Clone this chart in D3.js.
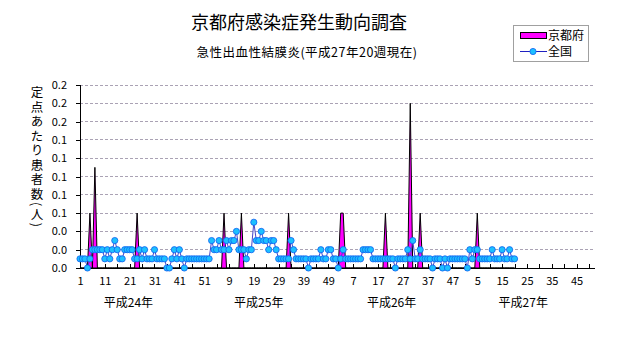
<!DOCTYPE html>
<html>
<head>
<meta charset="utf-8">
<script src="https://cdn.jsdelivr.net/npm/d3@7/dist/d3.min.js"></script>
<style>
  html, body { margin: 0; padding: 0; background: #fff; }
  svg { display: block; }
  text { font-family: "Noto Sans CJK JP", "Noto Sans", sans-serif; fill: #000; }
</style>
</head>
<body>
<svg id="chart" width="631" height="347"></svg>
<script>
// ---------- data ----------
const title = "京都府感染症発生動向調査";
const subtitle = "急性出血性結膜炎(平成27年20週現在)";
const yAxisTitle = "定点あたり患者数(人)";
const seriesNames = ["京都府", "全国"];

// week categories: H24..H27 (52 weeks each)
const yearNames = ["平成24年", "平成25年", "平成26年", "平成27年"];
const weeksPerYear = [52, 52, 52, 52];
const yearLabelWeek = [19.5, 72, 125.5, 178.5];   // category index where each year label sits

const xTickEvery = 5;
const xLabelIndex = [0,10,20,30,40,50,60,70,80,90,100,110,120,130,140,150,160,170,180,190,200];
const xLabels = ["1","11","21","31","41","51","9","19","29","39","49","7","17","27","37","47","5","15","25","35","45"];

const yTicks = [0, 0.02, 0.04, 0.06, 0.08, 0.10, 0.12, 0.14, 0.16, 0.18, 0.20];
const yTickLabels = ["0.0","0.0","0.0","0.1","0.1","0.1","0.1","0.1","0.2","0.2","0.2"];

// 京都府 (per sentinel), weeks 1.. (176 weeks, H24w1 - H27w20)
const kyoto = [
 0,0,0,0,0.06,0,0.11,0,0,0, 0,0,0,0,0,0,0,0,0,0, 0,0,0,0.06,0,0,0,0,0,0,
 0,0,0,0,0,0,0,0,0,0, 0,0,0,0,0,0,0,0,0,0, 0,0,0,0,0,0,0,0,0.06,0,
 0,0,0,0,0,0.06,0,0,0,0, 0,0,0,0,0,0,0,0,0,0, 0,0,0,0,0.06,0,0,0,0,0,
 0,0,0,0,0,0,0,0,0,0, 0,0,0,0,0,0.06,0.06,0,0,0, 0,0,0,0,0,0,0,0,0,0,
 0,0,0,0.06,0,0,0,0,0,0, 0,0,0,0.18,0,0,0,0.06,0,0, 0,0,0,0,0,0,0,0,0,0,
 0,0,0,0,0,0,0,0,0,0, 0.06,0,0,0,0,0,0,0,0,0, 0,0,0,0,0,0
];

// 全国 (per sentinel)
const national = [
 0.01,0.01,0.01,0.00,0.01,0.02,0.02,0.02,0.02,0.02,
 0.01,0.02,0.01,0.02,0.03,0.02,0.01,0.01,0.02,0.02,
 0.02,0.02,0.01,0.01,0.02,0.01,0.02,0.01,0.01,0.01,
 0.02,0.01,0.01,0.01,0.01,0.00,0.00,0.01,0.02,0.01,
 0.02,0.01,0.00,0.01,0.01,0.01,0.01,0.01,0.01,0.01,
 0.01,0.01,0.01,0.03,0.02,0.02,0.03,0.02,0.02,0.03,
 0.02,0.03,0.03,0.04,0.02,0.02,0.02,0.01,0.02,0.02,
 0.05,0.03,0.03,0.04,0.03,0.03,0.02,0.03,0.03,0.02,
 0.01,0.01,0.01,0.01,0.01,0.03,0.02,0.01,0.01,0.01,
 0.01,0.01,0.00,0.01,0.01,0.01,0.01,0.02,0.01,0.01,
 0.02,0.02,0.01,0.01,0.00,0.01,0.02,0.01,0.01,0.01,
 0.01,0.01,0.01,0.01,0.02,0.02,0.02,0.02,0.01,0.01,
 0.01,0.01,0.01,0.01,0.01,0.01,0.01,0.00,0.01,0.01,
 0.01,0.01,0.02,0.01,0.03,0.01,0.01,0.02,0.01,0.01,
 0.01,0.01,0.00,0.01,0.01,0.01,0.00,0.01,0.00,0.01,
 0.01,0.01,0.01,0.01,0.01,0.01,0.00,0.02,0.01,0.02,
 0.02,0.01,0.01,0.01,0.01,0.01,0.02,0.01,0.01,0.01,
 0.02,0.01,0.01,0.02,0.01,0.01
];

// ---------- drawing ----------
const svg = d3.select("#chart");
const W = 631, H = 347;
const plot = { left: 80, right: 594, top: 85, bottom: 268 };
const nCats = d3.sum(weeksPerYear);

const x = d3.scaleLinear().domain([0, nCats - 1]).range([plot.left, plot.right]);
const y = d3.scaleLinear().domain([0, 0.2]).range([plot.bottom, plot.top]);

svg.append("rect").attr("width", W).attr("height", H).attr("fill", "#fff");

// titles
svg.append("text").attr("x", 299).attr("y", 29).attr("text-anchor", "middle")
  .style("font-size", "18px").text(title);
svg.append("text").attr("x", 307).attr("y", 57).attr("text-anchor", "middle")
  .style("font-size", "12.5px").style("letter-spacing", "0.5px").text(subtitle);

// gridlines
svg.append("g").selectAll("line").data(yTicks.slice(1)).join("line")
  .attr("x1", plot.left).attr("x2", plot.right)
  .attr("y1", d => y(d)).attr("y2", d => y(d))
  .attr("stroke", "#aaa2b4").attr("stroke-width", 1).attr("stroke-dasharray", "3,2")
  .attr("shape-rendering", "crispEdges");

// y axis
const yAxis = d3.axisLeft(y).tickValues(yTicks).tickSize(4)
  .tickFormat((d, i) => yTickLabels[i]);
const gy = svg.append("g").attr("transform", `translate(${plot.left},0)`).call(yAxis);
gy.select(".domain").attr("stroke", "#000").attr("shape-rendering", "crispEdges");
gy.selectAll(".tick line").attr("stroke", "#000").attr("shape-rendering", "crispEdges");
gy.selectAll(".tick text").attr("x", -13).style("font-size", "11px")
  .style("font-family", "'Noto Sans CJK JP', sans-serif").attr("fill", "#000");

// x axis (ticks every 5 categories, pointing inward)
const xTickVals = d3.range(0, nCats, xTickEvery);
const xAxis = d3.axisBottom(x).tickValues(xTickVals).tickSizeInner(-4).tickSizeOuter(0)
  .tickFormat(d => { const k = xLabelIndex.indexOf(d); return k >= 0 ? xLabels[k] : ""; });
const gx = svg.append("g").attr("transform", `translate(0,${plot.bottom})`).call(xAxis);
gx.select(".domain").attr("stroke", "#000").attr("shape-rendering", "crispEdges");
gx.selectAll(".tick line").attr("stroke", "#000").attr("shape-rendering", "crispEdges");
gx.selectAll(".tick text").attr("y", 9).style("font-size", "11px").attr("fill", "#000");

// year labels
svg.append("g").selectAll("text").data(yearNames).join("text")
  .attr("x", (d, i) => x(yearLabelWeek[i])).attr("y", 307)
  .attr("text-anchor", "middle").style("font-size", "12px").text(d => d);

// y axis title (vertical writing)
svg.append("text").attr("x", 37).attr("y", 86)
  .style("writing-mode", "vertical-rl")
  .style("font-size", "12.5px").style("letter-spacing", "2px")
  .text(yAxisTitle);

// 京都府 area
const area = d3.area().x((d, i) => x(i)).y0(y(0)).y1(d => y(d));
svg.append("path").datum(kyoto).attr("d", area)
  .attr("fill", "#ff00ff").attr("stroke", "#000").attr("stroke-width", 1)
  .attr("stroke-linejoin", "miter");

// 全国 line + markers
const line = d3.line().x((d, i) => x(i)).y(d => y(d));
svg.append("path").datum(national).attr("d", line)
  .attr("fill", "none").attr("stroke", "#4646c8").attr("stroke-width", 1);
svg.append("g").selectAll("circle").data(national).join("circle")
  .attr("cx", (d, i) => x(i)).attr("cy", d => y(d)).attr("r", 3.1)
  .attr("fill", "#1cc0ff").attr("stroke", "#1060f0").attr("stroke-width", 0.8);

// legend
const lg = svg.append("g");
lg.append("rect").attr("x", 513.5).attr("y", 25.5).attr("width", 75).attr("height", 36)
  .attr("fill", "#fff").attr("stroke", "#a0a0a0");
lg.append("rect").attr("x", 520.5).attr("y", 32.5).attr("width", 26).attr("height", 6)
  .attr("fill", "#ff00ff").attr("stroke", "#000");
lg.append("text").attr("x", 548).attr("y", 40).style("font-size", "12px").text(seriesNames[0]);
lg.append("line").attr("x1", 520).attr("x2", 547).attr("y1", 51.5).attr("y2", 51.5)
  .attr("stroke", "#2020c0").attr("stroke-width", 1);
lg.append("circle").attr("cx", 533).attr("cy", 51.5).attr("r", 3.1)
  .attr("fill", "#1cc0ff").attr("stroke", "#1060f0").attr("stroke-width", 0.8);
lg.append("text").attr("x", 548).attr("y", 56).style("font-size", "12px").text(seriesNames[1]);
</script>
</body>
</html>
